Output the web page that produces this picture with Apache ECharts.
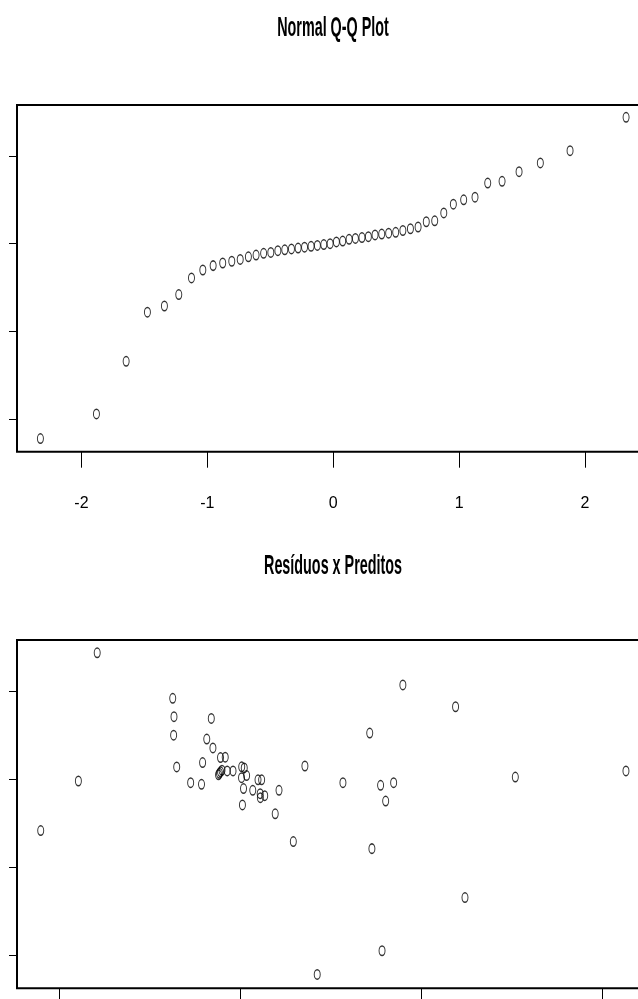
<!DOCTYPE html>
<html>
<head>
<meta charset="utf-8">
<title>Normal Q-Q Plot / Resíduos x Preditos</title>
<script src="https://cdn.jsdelivr.net/npm/echarts@6/dist/echarts.min.js"></script>
<style>
  html, body { margin: 0; padding: 0; background: #fff; overflow: hidden; }
  #main { width: 638px; height: 999px; }
</style>
</head>
<body>
<div id="main"></div>
<script>
// quantis teoricos (eixo x do Q-Q plot)
var qqTheo = [-2.326, -1.881, -1.645, -1.476, -1.341, -1.227, -1.126, -1.036, -0.954, -0.878,
              -0.806, -0.739, -0.674, -0.613, -0.553, -0.496, -0.440, -0.385, -0.332, -0.279,
              -0.228, -0.176, -0.126, -0.075, -0.025, 0.025, 0.075, 0.126, 0.176, 0.228,
              0.279, 0.332, 0.385, 0.440, 0.496, 0.553, 0.613, 0.674, 0.739, 0.806,
              0.878, 0.954, 1.036, 1.126, 1.227, 1.341, 1.476, 1.645, 1.881, 2.326];
// quantis amostrais (residuos ordenados)
var qqSample = [-2.22, -1.94, -1.34, -0.78, -0.71, -0.58, -0.39, -0.30, -0.25, -0.22,
                -0.20, -0.18, -0.15, -0.13, -0.11, -0.10, -0.08, -0.07, -0.06, -0.05,
                -0.04, -0.03, -0.02, -0.01, 0.00, 0.02, 0.03, 0.05, 0.06, 0.07,
                0.08, 0.10, 0.11, 0.12, 0.13, 0.15, 0.17, 0.19, 0.25, 0.26,
                0.35, 0.45, 0.50, 0.53, 0.69, 0.71, 0.82, 0.92, 1.06, 1.44];
var qqTicks = [-2, -1, 0, 1, 2];

// preditos x residuos
var preditos = [1.211, 1.628, 1.635, 1.633, 1.841, 1.816, 1.850, 1.650, 1.793, 1.892,
                1.918, 2.358, 1.107, 1.727, 1.787, 1.881, 1.886, 1.892, 1.900, 1.929,
                1.961, 2.009, 2.023, 2.036, 2.008, 2.099, 2.119, 2.019, 2.070, 2.111,
                2.112, 2.136, 2.215, 2.013, 2.194, 2.294, 0.899, 2.426, 2.899, 3.190,
                2.716, 2.568, 2.776, 2.848, 2.804, 3.520, 4.131, 2.728, 3.242, 2.784];
var residuos = [1.435, 0.919, 0.710, 0.501, 0.691, 0.456, 0.356, 0.140, 0.190, 0.247,
                0.251, 0.151, -0.019, -0.038, -0.057, 0.051, 0.068, 0.085, 0.103, 0.095,
                0.095, 0.142, 0.129, 0.042, 0.019, -0.006, -0.006, -0.105, -0.125, -0.163,
                -0.208, -0.185, -0.125, -0.290, -0.391, -0.706, -0.581, -2.213, 1.071, 0.823,
                0.524, -0.038, -0.068, -0.038, -0.247, 0.026, 0.095, -0.786, -1.341, -1.944];
var predTicks = [1, 2, 3, 4];
var resTicks = [-2, -1, 0, 1];

var fontMain = '"Liberation Sans", Arial, sans-serif';
var ellipse = 'path://M5,0A5,7,0,1,1,5,14A5,7,0,1,1,5,0Z';

var myChart = echarts.init(document.getElementById('main'));

var qqData = [];
for (var i = 0; i < qqTheo.length; i++) {
    qqData.push([qqTheo[i], qqSample[i]]);
}
var rpData = [];
for (var j = 0; j < preditos.length; j++) {
    rpData.push([preditos[j], residuos[j]]);
}

function yAxisOpt(idx, ticks) {
    return {
        type: 'value', gridIndex: idx, position: 'left',
        min: -2.37, max: 1.58,
        axisLine: { show: false, onZero: false },
        axisTick: { show: true, length: 8, customValues: ticks, lineStyle: { color: '#000', width: 1 } },
        axisLabel: { show: false },
        splitLine: { show: false }
    };
}

var option = {
    animation: false,
    backgroundColor: '#fff',
    graphic: [
        {
            type: 'text', x: 333, y: 29, scaleX: 0.82, scaleY: 1.55,
            style: { text: 'Normal Q-Q Plot', font: 'bold 17.5px ' + fontMain, fill: '#000',
                     textAlign: 'center', textVerticalAlign: 'middle' }
        },
        {
            type: 'text', x: 333, y: 567, scaleX: 0.82, scaleY: 1.55,
            style: { text: 'Resíduos x Preditos', font: 'bold 17.5px ' + fontMain, fill: '#000',
                     textAlign: 'center', textVerticalAlign: 'middle' }
        }
    ],
    grid: [
        { left: 17, top: 105, width: 632.5, height: 346.7, show: true, outerBoundsMode: 'none',
          borderColor: '#000', borderWidth: 2, backgroundColor: 'transparent' },
        { left: 17, top: 640, width: 632.5, height: 348.3, show: true, outerBoundsMode: 'none',
          borderColor: '#000', borderWidth: 2, backgroundColor: 'transparent' }
    ],
    xAxis: [
        {
            type: 'value', gridIndex: 0, position: 'bottom',
            min: -2.512, max: 2.512,
            axisLine: { show: false, onZero: false },
            axisTick: { show: true, length: 16, customValues: qqTicks, lineStyle: { color: '#000', width: 1 } },
            axisLabel: { customValues: qqTicks, color: '#000', fontSize: 16, fontFamily: fontMain, margin: 44 },
            splitLine: { show: false }
        },
        {
            type: 'value', gridIndex: 1, position: 'bottom',
            min: 0.768, max: 4.261,
            axisLine: { show: false, onZero: false },
            axisTick: { show: true, length: 16, customValues: predTicks, lineStyle: { color: '#000', width: 1 } },
            axisLabel: { show: false },
            splitLine: { show: false }
        }
    ],
    yAxis: [yAxisOpt(0, resTicks), yAxisOpt(1, resTicks)],
    series: [
        {
            name: 'Normal Q-Q', type: 'scatter', xAxisIndex: 0, yAxisIndex: 0,
            symbol: ellipse, symbolSize: [6, 9.5],
            itemStyle: { color: 'rgba(0,0,0,0)', borderColor: '#000', borderWidth: 1.2 },
            data: qqData
        },
        {
            name: 'Resíduos x Preditos', type: 'scatter', xAxisIndex: 1, yAxisIndex: 1,
            symbol: ellipse, symbolSize: [6, 9.5],
            itemStyle: { color: 'rgba(0,0,0,0)', borderColor: '#000', borderWidth: 1.2 },
            data: rpData
        }
    ]
};
myChart.setOption(option);
</script>
</body>
</html>
